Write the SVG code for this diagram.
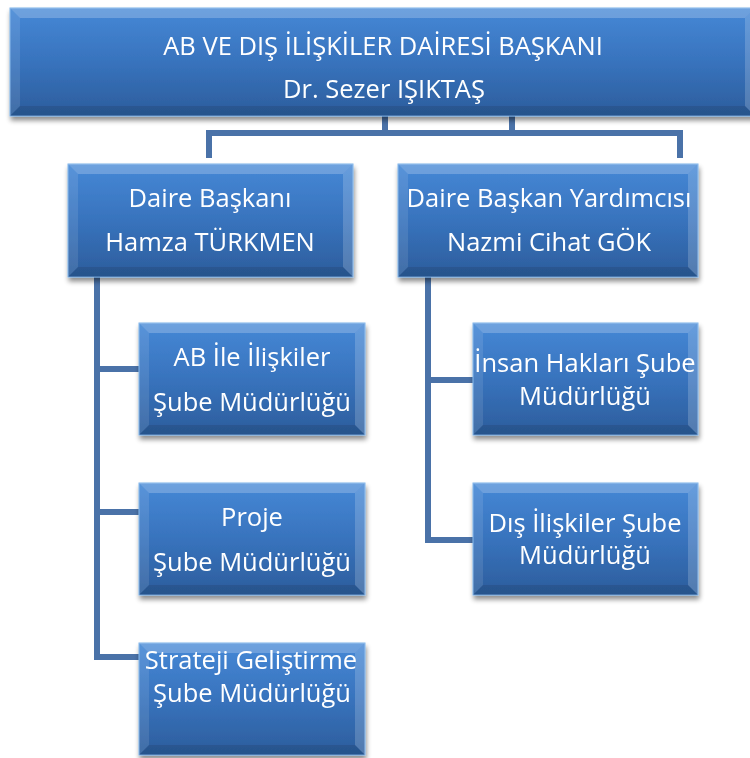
<svg xmlns="http://www.w3.org/2000/svg" width="750" height="758" viewBox="0 0 750 758">
<defs>
  <linearGradient id="face" x1="0" y1="0" x2="0" y2="1">
    <stop offset="0" stop-color="#4688d6"/>
    <stop offset="0.5" stop-color="#3873bd"/>
    <stop offset="1" stop-color="#2c5d9c"/>
  </linearGradient>
  <filter id="shadow" x="-10%" y="-10%" width="120%" height="130%">
    <feGaussianBlur in="SourceAlpha" stdDeviation="2.5"/>
    <feOffset dx="1" dy="4" result="b"/>
    <feComponentTransfer><feFuncA type="linear" slope="0.45"/></feComponentTransfer>
    <feMerge><feMergeNode/><feMergeNode in="SourceGraphic"/></feMerge>
  </filter>
</defs>
<style>
  .box { fill: url(#face); stroke: #7fb3ea; stroke-width: 1; }
  .bt { fill: #ffffff; fill-opacity: 0.22; }
  .bl { fill: #ffffff; fill-opacity: 0.10; }
  .br { fill: #ffffff; fill-opacity: 0.18; }
  .bb { fill: #000000; fill-opacity: 0.10; }
  .node { filter: url(#shadow); }
  text { font-family: "Open Sans", "Noto Sans", "DejaVu Sans", sans-serif; font-size: 25.5px; fill: #ffffff; text-anchor: middle; }
  .conn { fill: none; stroke: #4a72a8; stroke-width: 6; stroke-linejoin: miter; }
</style>

<g id="connectors">
  <path class="conn" d="M209,158 V133 H680 V158 M385,116 V133 M512,116 V133"/>
  <path class="conn" d="M97,277 V657 H139 M97,369 H139 M97,512 H139"/>
  <path class="conn" d="M428,277 V540 H473 M428,380 H473"/>
</g>

<g id="n-top" class="node">
  <rect class="box" x="10" y="8" width="745" height="108"/>
  <polygon class="bt" points="10,8 755,8 745,18 20,18"/>
  <polygon class="bl" points="10,8 20,18 20,106 10,116"/>
  <polygon class="br" points="755,8 745,18 745,106 755,116"/>
  <polygon class="bb" points="10,116 20,106 745,106 755,116"/>
  <text x="383" y="55">AB VE DIŞ İLİŞKİLER DAİRESİ BAŞKANI</text>
  <text x="384" y="98">Dr. Sezer IŞIKTAŞ</text>
</g>

<g id="n-db" class="node">
  <rect class="box" x="68" y="164" width="285" height="113"/>
  <polygon class="bt" points="68,164 353,164 343,174 78,174"/>
  <polygon class="bl" points="68,164 78,174 78,267 68,277"/>
  <polygon class="br" points="353,164 343,174 343,267 353,277"/>
  <polygon class="bb" points="68,277 78,267 343,267 353,277"/>
  <text x="210" y="207">Daire Başkanı</text>
  <text x="210" y="251">Hamza TÜRKMEN</text>
</g>

<g id="n-dby" class="node">
  <rect class="box" x="398" y="164" width="300" height="113"/>
  <polygon class="bt" points="398,164 698,164 688,174 408,174"/>
  <polygon class="bl" points="398,164 408,174 408,267 398,277"/>
  <polygon class="br" points="698,164 688,174 688,267 698,277"/>
  <polygon class="bb" points="398,277 408,267 688,267 698,277"/>
  <text x="549" y="207">Daire Başkan Yardımcısı</text>
  <text x="549" y="251">Nazmi Cihat GÖK</text>
</g>

<g id="n-ab" class="node">
  <rect class="box" x="139" y="323" width="226" height="112"/>
  <polygon class="bt" points="139,323 365,323 355,333 149,333"/>
  <polygon class="bl" points="139,323 149,333 149,425 139,435"/>
  <polygon class="br" points="365,323 355,333 355,425 365,435"/>
  <polygon class="bb" points="139,435 149,425 355,425 365,435"/>
  <text x="252" y="366">AB İle İlişkiler</text>
  <text x="252" y="411">Şube Müdürlüğü</text>
</g>

<g id="n-proje" class="node">
  <rect class="box" x="139" y="483" width="226" height="112"/>
  <polygon class="bt" points="139,483 365,483 355,493 149,493"/>
  <polygon class="bl" points="139,483 149,493 149,585 139,595"/>
  <polygon class="br" points="365,483 355,493 355,585 365,595"/>
  <polygon class="bb" points="139,595 149,585 355,585 365,595"/>
  <text x="252" y="526">Proje</text>
  <text x="252" y="571">Şube Müdürlüğü</text>
</g>

<g id="n-strateji" class="node">
  <rect class="box" x="139" y="643" width="226" height="112"/>
  <polygon class="bt" points="139,643 365,643 355,653 149,653"/>
  <polygon class="bl" points="139,643 149,653 149,745 139,755"/>
  <polygon class="br" points="365,643 355,653 355,745 365,755"/>
  <polygon class="bb" points="139,755 149,745 355,745 365,755"/>
  <text x="251" y="669">Strateji Geliştirme</text>
  <text x="252" y="702">Şube Müdürlüğü</text>
</g>

<g id="n-insan" class="node">
  <rect class="box" x="473" y="323" width="225" height="112"/>
  <polygon class="bt" points="473,323 698,323 688,333 483,333"/>
  <polygon class="bl" points="473,323 483,333 483,425 473,435"/>
  <polygon class="br" points="698,323 688,333 688,425 698,435"/>
  <polygon class="bb" points="473,435 483,425 688,425 698,435"/>
  <text x="585" y="372">İnsan Hakları Şube</text>
  <text x="585" y="405">Müdürlüğü</text>
</g>

<g id="n-dis" class="node">
  <rect class="box" x="473" y="483" width="225" height="112"/>
  <polygon class="bt" points="473,483 698,483 688,493 483,493"/>
  <polygon class="bl" points="473,483 483,493 483,585 473,595"/>
  <polygon class="br" points="698,483 688,493 688,585 698,595"/>
  <polygon class="bb" points="473,595 483,585 688,585 698,595"/>
  <text x="585" y="532">Dış İlişkiler Şube</text>
  <text x="585" y="564">Müdürlüğü</text>
</g>
</svg>
